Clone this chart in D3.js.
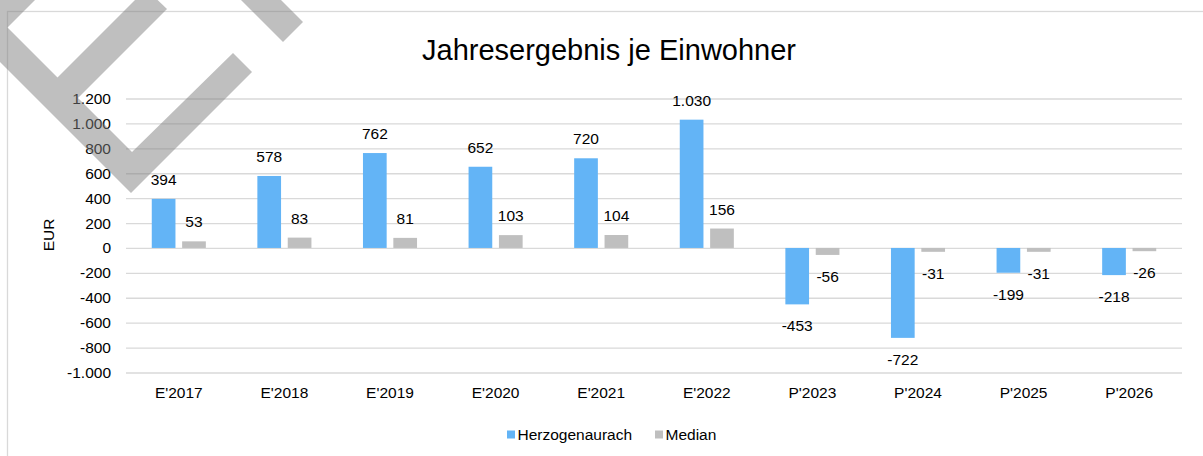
<!DOCTYPE html>
<html>
<head>
<meta charset="utf-8">
<script src="https://cdn.jsdelivr.net/npm/d3@7/dist/d3.min.js"></script>
<style>
  html, body { margin: 0; padding: 0; background: #fff; }
  svg { display: block; font-family: "Liberation Sans", Arial, sans-serif; }
</style>
</head>
<body>
<svg id="chart" width="1203" height="456"></svg>
<script>
// ---- data ----
const categories = ["E'2017", "E'2018", "E'2019", "E'2020", "E'2021", "E'2022", "P'2023", "P'2024", "P'2025", "P'2026"];
const seriesNames = ["Herzogenaurach", "Median"];
const herzogenaurach = [394, 578, 762, 652, 720, 1030, -453, -722, -199, -218];
const median = [53, 83, 81, 103, 104, 156, -56, -31, -31, -26];
const yTicks = [-1000, -800, -600, -400, -200, 0, 200, 400, 600, 800, 1000, 1200];
const titleText = "Jahresergebnis je Einwohner";
const yAxisTitle = "EUR";

// ---- styles ----
const colors = { "Herzogenaurach": "#63b4f6", "Median": "#bfbfbf" };
const gridColor = "#d9d9d9";
const textColor = "#000";

const de = d3.formatLocale({ decimal: ",", thousands: ".", grouping: [3], currency: ["", " €"], minus: "-" });
const fmt = de.format(",d");

const svg = d3.select("#chart");

// chart border
svg.append("rect")
  .attr("x", 7.5).attr("y", 11.5).attr("width", 1300).attr("height", 600)
  .attr("fill", "none").attr("stroke", gridColor).attr("stroke-width", 1.3);

const plot = { left: 126, right: 1182, top: 98.5, bottom: 372.5 };

const x0 = d3.scaleBand().domain(categories).range([plot.left, plot.right])
  .paddingInner(0.488).paddingOuter(0.244);
const x1 = d3.scaleBand().domain(seriesNames).range([0, x0.bandwidth()]).paddingInner(0.22);
const y = d3.scaleLinear().domain([-1000, 1200]).range([plot.bottom, plot.top]);

// gridlines
const yAxis = d3.axisLeft(y).tickValues(yTicks).tickFormat(fmt)
  .tickSize(-(plot.right - plot.left)).tickPadding(15);
const gy = svg.append("g").attr("transform", `translate(${plot.left},0)`).call(yAxis);
gy.select(".domain").remove();
gy.selectAll(".tick line").attr("stroke", gridColor).attr("stroke-width", 1.3);
gy.selectAll(".tick text").attr("fill", textColor)
  .style("font-size", "15.5px").style("font-family", '"Liberation Sans", Arial, sans-serif');

// bars
const data = categories.map((c, i) => ({ cat: c, values: [
  { s: "Herzogenaurach", v: herzogenaurach[i] },
  { s: "Median", v: median[i] }
]}));

const groups = svg.append("g").selectAll("g").data(data).join("g")
  .attr("transform", d => `translate(${x0(d.cat)},0)`);

groups.selectAll("rect").data(d => d.values).join("rect")
  .attr("x", d => x1(d.s))
  .attr("width", x1.bandwidth())
  .attr("y", d => y(Math.max(0, d.v)))
  .attr("height", d => Math.abs(y(d.v) - y(0)))
  .attr("fill", d => colors[d.s]);

groups.selectAll("text").data(d => d.values).join("text")
  .attr("x", d => x1(d.s) + x1.bandwidth() / 2)
  .attr("y", d => d.v >= 0 ? y(d.v) - 14 : y(d.v) + 27)
  .attr("text-anchor", "middle")
  .attr("fill", textColor)
  .style("font-size", "15.5px")
  .text(d => fmt(d.v));

// category axis labels
const xAxis = d3.axisBottom(x0).tickSize(0).tickPadding(0);
const gx = svg.append("g").attr("transform", `translate(0,${plot.bottom})`).call(xAxis);
gx.select(".domain").remove();
gx.selectAll(".tick text").attr("fill", textColor).attr("dy", 0).attr("y", 25)
  .style("font-size", "15.5px").style("font-family", '"Liberation Sans", Arial, sans-serif');

// title
svg.append("text").attr("x", 609).attr("y", 60).attr("text-anchor", "middle")
  .attr("fill", textColor).style("font-size", "29px").text(titleText);

// y axis title
svg.append("text").attr("transform", "translate(54,235) rotate(-90)")
  .attr("text-anchor", "middle").attr("fill", textColor)
  .style("font-size", "15.5px").text(yAxisTitle);

// legend
const legend = svg.append("g");
const legendItems = [
  { name: seriesNames[0], x: 507 },
  { name: seriesNames[1], x: 655 }
];
legendItems.forEach(it => {
  legend.append("rect").attr("x", it.x).attr("y", 430.5).attr("width", 8).attr("height", 8)
    .attr("fill", colors[it.name]);
  legend.append("text").attr("x", it.x + 10.5).attr("y", 440).attr("fill", textColor)
    .style("font-size", "15.5px").text(it.name);
});

// watermark decoration (semi-transparent stamp)
const watermarkShapes = [
  [[-10,-10],[45,-10],[-10,45]],
  [[40,95],[146,-11],[167,9],[60,116]],
  [[-40,-20],[132,152],[233,53],[252,72],[131,193],[-40,22]],
  [[221,-20],[283,42],[303,22],[261,-20]]
];
const wm = svg.append("g").attr("opacity", 0.5);
wm.selectAll("polygon").data(watermarkShapes).join("polygon")
  .attr("points", d => d.map(p => p.join(",")).join(" "))
  .attr("fill", "#808080");
</script>
</body>
</html>
